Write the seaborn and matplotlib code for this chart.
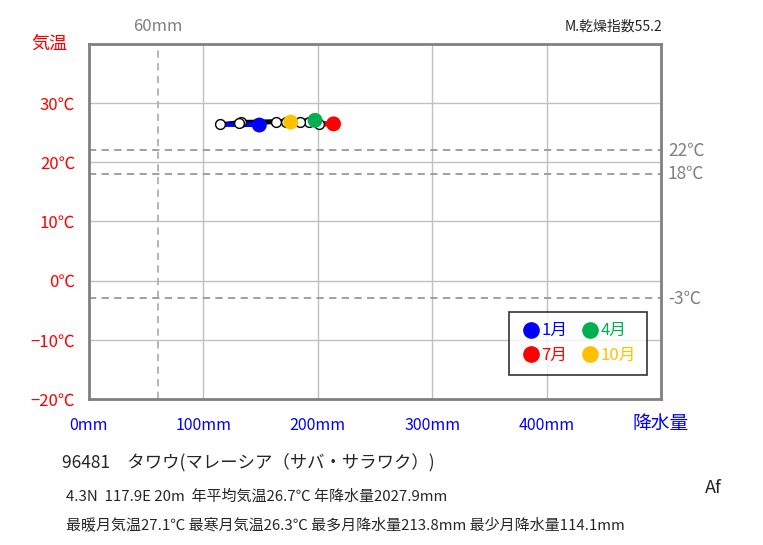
import pandas as pd
import matplotlib.pyplot as plt
import seaborn as sns
from matplotlib.lines import Line2D

# monthly climate normals
months = list(range(1, 13))
precip_mm = [148.9, 114.1, 132.6, 197.6, 192.6, 201.3, 213.8, 184.4, 171.8, 176.3, 163.5, 131.0]
temp_c = [26.3, 26.4, 26.8, 27.1, 26.8, 26.4, 26.5, 26.8, 26.8, 26.8, 26.8, 26.6]

key_months = [1, 4, 7, 10]
key_labels = ["1月", "4月", "7月", "10月"]
key_colors = ["#0000ff", "#00b050", "#ff0000", "#ffc000"]

ref_temps = [22, 18, -3]
ref_labels = ["22℃", "18℃", "-3℃"]
x_ticks = [0, 100, 200, 300, 400]
y_ticks = [-20, -10, 0, 10, 20, 30]

df = pd.DataFrame({"month": months, "precip": precip_mm, "temp": temp_c})
loop = pd.concat([df, df.iloc[[0]]], ignore_index=True)

sns.set_style("white")
plt.rcParams['font.family'] = ['Noto Sans CJK JP', 'DejaVu Sans']

fig = plt.figure(figsize=(7.63, 5.45), dpi=100)
ax = fig.add_axes([0.1166, 0.2679, 0.7497, 0.6514])

gray = "#808080"
for x in range(100, 500, 100):
    ax.axvline(x, color="#c0c0c0", lw=1, zorder=0)
for y in range(-10, 40, 10):
    ax.axhline(y, color="#c0c0c0", lw=1, zorder=0)
ax.axvline(60, color="#b0b0b0", lw=1.3, ls=(0, (4, 3)), zorder=1)
for t in ref_temps:
    ax.axhline(t, color="#999999", lw=1.3, ls=(0, (4, 3)), zorder=1)

# line through the months
sns.lineplot(data=loop, x="precip", y="temp", sort=False, color="black", lw=3, ax=ax, zorder=3)
winter = df.iloc[[11, 0, 1]].reset_index(drop=True)
sns.lineplot(data=winter, x="precip", y="temp", sort=False, color="#0000ff", lw=3, ax=ax, zorder=3)
summer = df.iloc[[5, 6]].reset_index(drop=True)
sns.lineplot(data=summer, x="precip", y="temp", sort=False, color="#ff0000", lw=3, ax=ax, zorder=3)

others = df[~df["month"].isin(key_months)]
sns.scatterplot(data=others, x="precip", y="temp", s=50, color="white", edgecolor="black",
                linewidth=1, ax=ax, zorder=4)
keys = df[df["month"].isin(key_months)].copy()
keys["label"] = key_labels
sns.scatterplot(data=keys, x="precip", y="temp", hue="label", palette=key_colors, s=115,
                edgecolor="none", legend=False, ax=ax, zorder=5)

ax.set_xlim(0, 500)
ax.set_ylim(-20, 40)
ax.set_xticks(x_ticks + [500])
ax.set_xticklabels([f"{v}mm" for v in x_ticks] + [""], color="#0000ff", fontsize=11.5)
ax.set_yticks(y_ticks)
ax.set_yticklabels([f"{v}℃".replace("-", "−") for v in y_ticks], color="#ff0000", fontsize=12)
ax.tick_params(axis="x", length=0, pad=13)
ax.tick_params(axis="y", length=0, pad=10)
ax.set_xlabel("")
ax.set_ylabel("")
for s in ax.spines.values():
    s.set_color(gray)
    s.set_linewidth(2)

ax.text(-0.07, 40, "気温", color="#ff0000", fontsize=13, ha="center", va="center",
        transform=ax.get_yaxis_transform())
ax.text(500, -24.1, "降水量", color="#0000ff", fontsize=13.5, ha="center", va="center")
ax.text(60, 41.5, "60mm", color=gray, fontsize=12, ha="center", va="bottom")
for t, lab in zip(ref_temps, ref_labels):
    ax.text(1.012, t, lab, color=gray, fontsize=12.5, ha="left", va="center",
            transform=ax.get_yaxis_transform())

# ncol=2 fills column by column, so order the entries to read 1月 4月 / 7月 10月
order = [0, 2, 1, 3]
handles = [Line2D([], [], marker="o", ls="none", color=key_colors[i], markersize=11) for i in order]
leg = ax.legend(handles, [key_labels[i] for i in order], ncol=2, loc="lower right",
                bbox_to_anchor=(0.99, 0.045), frameon=True, fancybox=False, edgecolor="black",
                handletextpad=0.0, columnspacing=0.7, borderpad=0.65, labelspacing=0.45,
                fontsize=12, handlelength=1.3)
leg.get_frame().set_linewidth(1.2)
for txt, i in zip(leg.get_texts(), order):
    txt.set_color(key_colors[i])

fig.text(0.0813, 0.150, "96481　タワウ(マレーシア（サバ・サラワク）)", fontsize=12.5, va="center")
fig.text(0.087, 0.088, "4.3N  117.9E 20m  年平均気温26.7℃ 年降水量2027.9mm", fontsize=10.8, va="center")
fig.text(0.087, 0.036, "最暖月気温27.1℃ 最寒月気温26.3℃ 最多月降水量213.8mm 最少月降水量114.1mm",
         fontsize=10.8, va="center")
fig.text(0.924, 0.104, "Af", fontsize=13, va="center")
fig.text(0.740, 0.951, "M.乾燥指数55.2", fontsize=10, va="center")

fig.savefig("out.png", dpi=100, facecolor="white")
